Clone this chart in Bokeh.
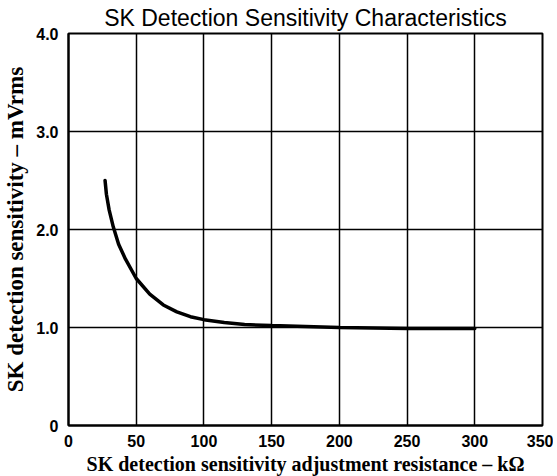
from bokeh.plotting import figure
from bokeh.models import Range1d, FixedTicker, Title
from bokeh.embed import file_html
from bokeh.resources import INLINE

resistance_kohm = [27, 28, 30, 33, 37, 42, 50, 60, 70, 80, 90, 100, 115, 130, 150, 175, 200, 250, 300]
sensitivity_mv = [2.50, 2.36, 2.20, 2.03, 1.85, 1.70, 1.50, 1.34, 1.23, 1.16, 1.11, 1.08, 1.05, 1.03, 1.02, 1.01, 1.00, 0.99, 0.99]

x_ticks = [0, 50, 100, 150, 200, 250, 300, 350]
y_ticks = [0, 1, 2, 3, 4]
y_tick_labels = {0: "0", 1: "1.0", 2: "2.0", 3: "3.0", 4: "4.0"}

p = figure(width=553, height=477, output_backend="svg", toolbar_location=None,
           x_range=Range1d(0, 350), y_range=Range1d(0, 4),
           min_border_left=59, min_border_right=11, min_border_top=30, min_border_bottom=46)

p.title = Title(text="SK Detection Sensitivity Characteristics", align="center",
                text_font="Liberation Sans", text_font_size="23px", text_font_style="normal",
                text_color="black", offset=0, standoff=5)

p.outline_line_color = "black"
p.outline_line_width = 2

for ax in (p.xaxis[0], p.yaxis[0]):
    ax.major_tick_line_color = None
    ax.minor_tick_line_color = None
    ax.axis_line_color = "black"
    ax.axis_line_width = 2
    ax.major_label_text_font = "Liberation Sans"
    ax.major_label_text_font_style = "bold"
    ax.major_label_text_font_size = "16px"
    ax.major_label_text_color = "black"
    ax.axis_label_text_font = "Liberation Serif"
    ax.axis_label_text_font_style = "bold"
    ax.axis_label_text_color = "black"

p.xaxis.axis_label_text_font_size = "20px"
p.yaxis.axis_label_text_font_size = "23px"
p.xaxis.ticker = FixedTicker(ticks=x_ticks)
p.yaxis.ticker = FixedTicker(ticks=y_ticks)
p.yaxis.major_label_overrides = y_tick_labels
p.xaxis.axis_label = "SK detection sensitivity adjustment resistance – kΩ"
p.yaxis.axis_label = "SK detection sensitivity – mVrms"
p.xaxis.major_label_standoff = 3
p.yaxis.major_label_standoff = 4
p.xaxis.axis_label_standoff = 3
p.yaxis.axis_label_standoff = 5

p.xgrid.grid_line_color = "black"
p.ygrid.grid_line_color = "black"
p.xgrid.grid_line_width = 1.5
p.ygrid.grid_line_width = 1.5

p.line(resistance_kohm, sensitivity_mv, line_color="black", line_width=3.5, line_cap="round")

open("out.html", "w").write(file_html(p, INLINE))
